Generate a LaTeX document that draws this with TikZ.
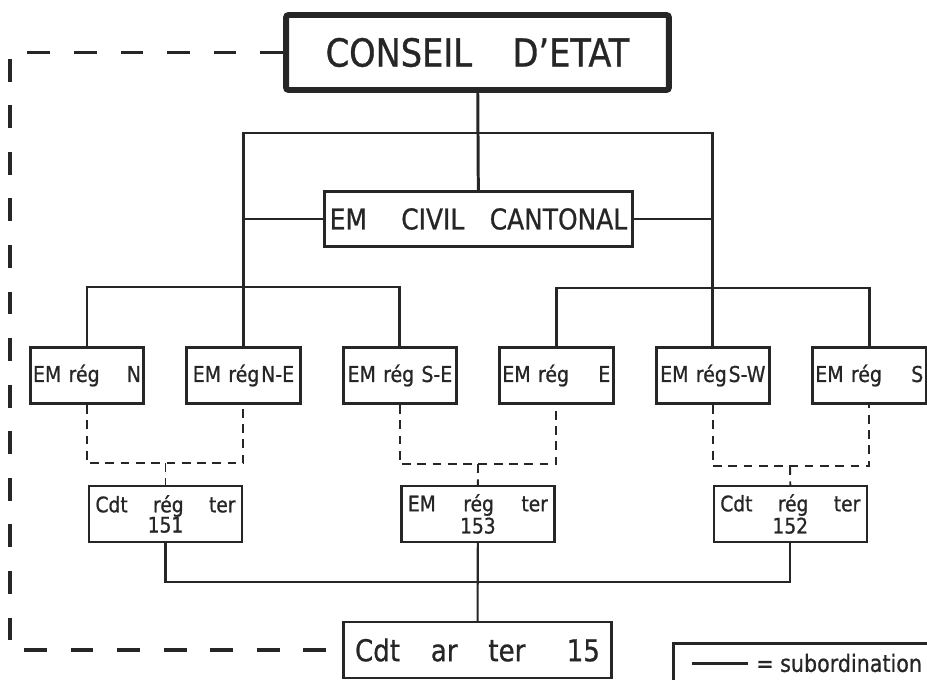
\documentclass[tikz,border=0pt]{standalone}
\usepackage{fontspec}
\setmainfont{DejaVu Sans}[FakeStretch=0.87, FakeBold=0.8]
\usetikzlibrary{positioning}

\begin{document}
\begin{tikzpicture}[x=0.02cm, y=-0.02cm, node distance=0.8cm, black!85]
    \tikzset{
      box/.style={rectangle, draw, line width=1.7pt, inner sep=0pt, align=center},
      regbox/.style={box, minimum width=2.27cm, minimum height=1.12cm,
        text width=2.16cm, font=\fontsize{12.4}{14}\selectfont},
      terbox/.style={box, line width=1.4pt, minimum width=3.06cm, minimum height=1.11cm,
        text width=2.8cm, font=\fontsize{12.2}{11.5}\selectfont},
      link/.style={line width=1.7pt},
      thinlink/.style={line width=1.2pt},
      longdash/.style={line width=1.8pt, dash pattern=on 13pt off 13.5pt},
      shortdash/.style={line width=1.1pt, dash pattern=on 5pt off 3.7pt}
    }
    \useasboundingbox (0,0) rectangle (927,680);
    \clip (0,0) rectangle (927,680);

    \node[box, line width=3.4pt, rounded corners=1.5pt, minimum width=7.66cm, minimum height=1.5cm,
      font=\fontsize{22}{26}\selectfont] (etat) at (477.5,52.5) {CONSEIL\hspace{17pt} D'ETAT};
    \node[box, minimum width=6.16cm, minimum height=1.1cm, font=\fontsize{16.3}{20}\selectfont]
      (civil) at (478.5,219) {EM\hspace{15pt} CIVIL\hspace{10pt} CANTONAL};

    \node[regbox] (regN) at (87,375.5) {EM rég\hfill N};
    \node[regbox, right=of regN] (regNE) {EM rég\hspace{1pt}N-E};
    \node[regbox, right=of regNE] (regSE) {EM rég S-E};
    \node[regbox, right=of regSE] (regE) {EM rég\hfill E};
    \node[regbox, right=of regE] (regSW) {EM rég\hspace{1pt}S-W};
    \node[regbox, right=of regSW] (regS) {EM rég\hfill S};

    \node[terbox] (ter151) at (165.5,514) {Cdt\hfill rég\hfill ter\\151};
    \node[terbox, right=3.14cm of ter151] (ter153) {EM\hfill rég\hfill ter\\153};
    \node[terbox, right=3.14cm of ter153] (ter152) {Cdt\hfill rég\hfill ter\\152};
    \node[box, line width=1.4pt, minimum width=5.37cm, minimum height=1.11cm, text width=4.9cm,
      font=\fontsize{17.1}{20}\selectfont] (ter15) at (477.5,650) {Cdt\hfill ar\hfill ter\hfill\hspace{6pt}15};

    \coordinate (barTop) at (478,133);
    \coordinate (barL) at (244,287);
    \coordinate (barR) at (712,288);
    \coordinate (barB) at (478,582);
    \coordinate (dash151) at (165.5,463);
    \coordinate (dash153) at (478,464);
    \coordinate (dash152) at (790,466);
    \coordinate (dashBL) at (10,650);

    \draw[link] (etat) -- (civil);
    \draw[link] (regNE.north) |- (barTop) -| (regSW.north);
    \draw[link] (civil.west) -- (civil.west -| regNE.north);
    \draw[link] (civil.east) -- (civil.east -| regSW.north);
    \draw[link] (regN.north) |- (barL) -| (regSE.north);
    \draw[link] (regE.north) |- (barR) -| (regS.north);

    \draw[shortdash] (regN.south) |- (dash151) -| (regNE.south);
    \draw[shortdash] (dash151) -- (ter151.north);
    \draw[shortdash] (regSE.south) |- (dash153) -| (regE.south);
    \draw[shortdash] (dash153) -- (ter153.north);
    \draw[shortdash] (regSW.south) |- (dash152) -| (regS.south);
    \draw[shortdash] (dash152) -- (ter152.north);

    \draw[thinlink] (ter151.south) |- (barB) -| (ter152.south);
    \draw[thinlink] (ter153) -- (ter15);

    \draw[longdash] (etat.west) -| (dashBL) -- (ter15.west);

    \node[draw, line width=1.7pt, anchor=north west, minimum width=6cm, minimum height=2cm] (legend) at (672,642) {};
    \coordinate (sampleA) at (692,663);
    \coordinate (sampleB) at (748,663);
    \draw[link] (sampleA) -- (sampleB);
    \node[anchor=west, inner sep=0pt, font=\fontsize{13.5}{15}\selectfont] (legtext) at (756,663) {= subordination};
\end{tikzpicture}
\end{document}
